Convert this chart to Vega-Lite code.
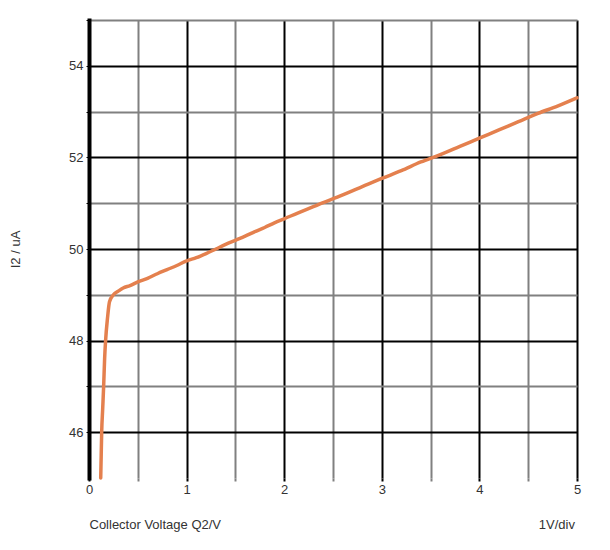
{
  "$schema": "https://vega.github.io/schema/vega-lite/v6.json",
  "autosize": "none",
  "width": 488,
  "height": 458,
  "padding": {"left": 89, "top": 20, "right": 33, "bottom": 72},
  "background": "white",
  "config": {
    "view": {"stroke": null},
    "font": "Liberation Sans",
    "axis": {"labelFont": "Liberation Sans", "titleFont": "Liberation Sans", "labelFontSize": 13, "titleFontSize": 13, "labelColor": "#333", "titleColor": "#333", "titleFontWeight": "normal"},
    "title": {"font": "Liberation Sans", "fontSize": 13, "fontWeight": "normal", "color": "#333"}
  },
  "title": {"text": "1V/div", "orient": "bottom", "anchor": "end", "offset": -12, "frame": "group", "dx": -2},
  "data": {"values": [
    {"v": 0.12, "i": 45.0},
    {"v": 0.125, "i": 45.5},
    {"v": 0.13, "i": 46.0},
    {"v": 0.14, "i": 46.5},
    {"v": 0.15, "i": 47.0},
    {"v": 0.16, "i": 47.6},
    {"v": 0.17, "i": 48.0},
    {"v": 0.19, "i": 48.5},
    {"v": 0.21, "i": 48.85},
    {"v": 0.25, "i": 49.0},
    {"v": 0.3, "i": 49.08},
    {"v": 0.35, "i": 49.15},
    {"v": 0.42, "i": 49.2},
    {"v": 0.5, "i": 49.28},
    {"v": 0.6, "i": 49.36},
    {"v": 0.7, "i": 49.46},
    {"v": 0.8, "i": 49.55},
    {"v": 0.9, "i": 49.64},
    {"v": 1.0, "i": 49.74},
    {"v": 1.1, "i": 49.81},
    {"v": 1.2, "i": 49.9},
    {"v": 1.3, "i": 50.0},
    {"v": 1.4, "i": 50.1},
    {"v": 1.5, "i": 50.19},
    {"v": 1.6, "i": 50.28},
    {"v": 1.7, "i": 50.38},
    {"v": 1.8, "i": 50.47},
    {"v": 1.9, "i": 50.57},
    {"v": 2.0, "i": 50.66},
    {"v": 2.2, "i": 50.84},
    {"v": 2.4, "i": 51.01},
    {"v": 2.6, "i": 51.18},
    {"v": 2.8, "i": 51.36},
    {"v": 3.0, "i": 51.54},
    {"v": 3.2, "i": 51.71},
    {"v": 3.4, "i": 51.9},
    {"v": 3.6, "i": 52.06},
    {"v": 3.8, "i": 52.24},
    {"v": 4.0, "i": 52.42},
    {"v": 4.2, "i": 52.6},
    {"v": 4.4, "i": 52.78},
    {"v": 4.6, "i": 52.96},
    {"v": 4.8, "i": 53.12},
    {"v": 5.0, "i": 53.3}
  ]},
  "mark": {"type": "line", "color": "#e4804e", "strokeWidth": 3.5, "strokeCap": "round", "strokeJoin": "round", "interpolate": "monotone"},
  "encoding": {
    "x": {
      "field": "v", "type": "quantitative",
      "scale": {"domain": [0, 5], "nice": false, "zero": false},
      "axis": {
        "title": "Collector Voltage Q2/V",
        "titleAnchor": "start",
        "titlePadding": 22,
        "values": [0, 0.5, 1, 1.5, 2, 2.5, 3, 3.5, 4, 4.5, 5],
        "labelExpr": "datum.value % 1 === 0 ? format(datum.value, 'd') : ''",
        "grid": true,
        "gridWidth": 2,
        "gridColor": {"condition": {"test": "datum.value % 1 === 0", "value": "#000000"}, "value": "#808080"},
        "gridOpacity": 1,
        "ticks": true,
        "tickSize": 3,
        "tickWidth": 2,
        "tickColor": {"condition": {"test": "datum.value % 1 === 0", "value": "#000000"}, "value": "#808080"},
        "domain": false,
        "labelPadding": 2,
        "labelFlush": false
      }
    },
    "y": {
      "field": "i", "type": "quantitative",
      "scale": {"domain": [45, 55], "nice": false, "zero": false},
      "axis": {
        "title": "I2 / uA",
        "titlePadding": 46,
        "values": [46, 47, 48, 49, 50, 51, 52, 53, 54, 55],
        "labelExpr": "datum.value % 2 === 0 && datum.value < 55 ? datum.label : ''",
        "grid": true,
        "gridWidth": 2,
        "gridColor": {"condition": {"test": "datum.value % 2 === 0", "value": "#000000"}, "value": "#808080"},
        "gridOpacity": 1,
        "ticks": true,
        "tickSize": 3,
        "tickColor": "#000000",
        "domain": true,
        "domainWidth": 4,
        "domainColor": "#000000",
        "domainCap": "square",
        "labelPadding": 3
      }
    }
  }
}
